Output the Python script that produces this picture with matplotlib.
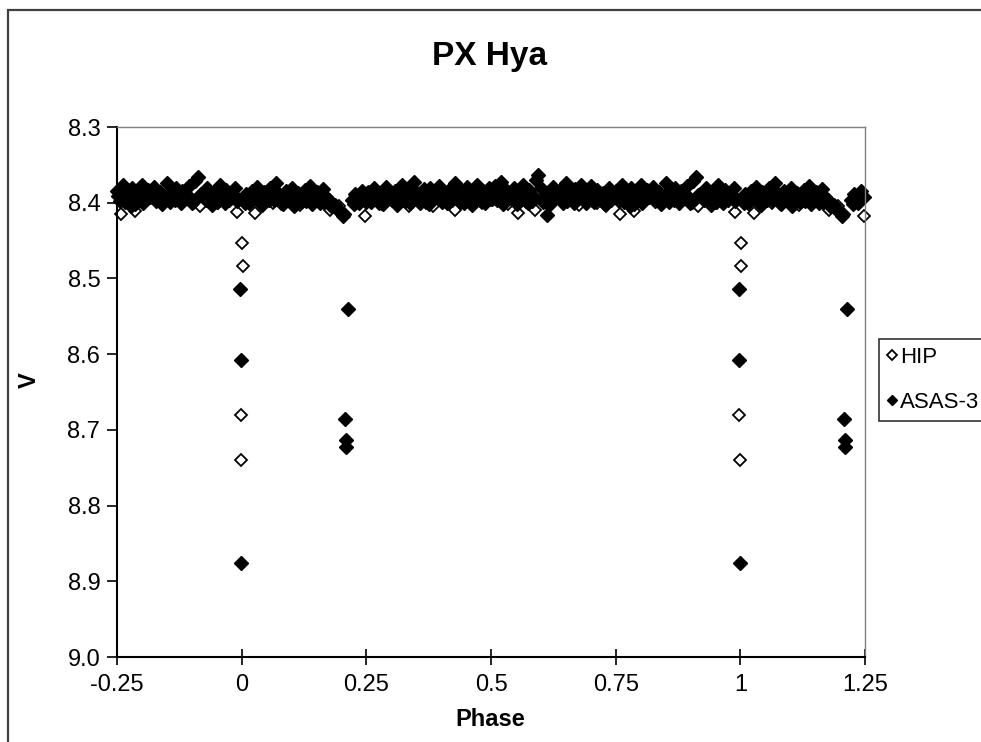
import matplotlib
matplotlib.use("Agg")
import matplotlib.pyplot as plt
from matplotlib.patches import Rectangle
import numpy as np

plt.rcParams['font.family'] = ['Liberation Sans', 'DejaVu Sans']

title = "PX Hya"
xlabel = "Phase"
ylabel = "V"
series_names = ["HIP", "ASAS-3"]
xticks = [-0.25, 0, 0.25, 0.5, 0.75, 1, 1.25]
xtick_labels = ["-0.25", "0", "0.25", "0.5", "0.75", "1", "1.25"]
yticks = [8.3, 8.4, 8.5, 8.6, 8.7, 8.8, 8.9, 9.0]
ytick_labels = ["8.3", "8.4", "8.5", "8.6", "8.7", "8.8", "8.9", "9.0"]

# HIP base phases (0..1) and magnitudes
hip_phase = [0.001, 0.002, 0.998, 0.999,
             0.012, 0.027, 0.045, 0.063, 0.081, 0.098, 0.117, 0.134, 0.152, 0.177,
             0.195, 0.232, 0.247, 0.262, 0.281, 0.299, 0.318, 0.336, 0.353, 0.369,
             0.384, 0.405, 0.428, 0.446, 0.463, 0.481, 0.499, 0.517, 0.535, 0.554,
             0.571, 0.588, 0.605, 0.623, 0.641, 0.659, 0.677, 0.695, 0.712, 0.730,
             0.758, 0.787, 0.805, 0.822, 0.841, 0.860, 0.879, 0.897, 0.916, 0.935,
             0.953, 0.972, 0.990]
hip_mag = [8.453, 8.484, 8.680, 8.740,
           8.398, 8.414, 8.392, 8.401, 8.395, 8.388, 8.403, 8.397, 8.390, 8.410,
           8.405, 8.399, 8.417, 8.394, 8.402, 8.391, 8.398, 8.404, 8.393, 8.400,
           8.404, 8.395, 8.410, 8.398, 8.392, 8.401, 8.396, 8.389, 8.402, 8.414,
           8.399, 8.410, 8.394, 8.401, 8.397, 8.390, 8.403, 8.396, 8.400, 8.405,
           8.415, 8.411, 8.398, 8.386, 8.402, 8.395, 8.400, 8.392, 8.404, 8.397,
           8.401, 8.394, 8.412]

# ASAS-3 base phases (0..1) and magnitudes
asas_phase = [0.997, 0.998, 0.999, 0.213, 0.207, 0.209, 0.2095,
              0.004, 0.009, 0.015, 0.021, 0.026, 0.031, 0.038, 0.044, 0.051, 0.057,
              0.064, 0.069, 0.075, 0.082, 0.088, 0.094, 0.101, 0.107, 0.113, 0.119,
              0.127, 0.132, 0.138, 0.145, 0.151, 0.157, 0.163, 0.170, 0.176, 0.182,
              0.188, 0.193, 0.198, 0.203, 0.206, 0.222, 0.228, 0.235, 0.241, 0.247,
              0.253, 0.259, 0.265, 0.271, 0.278, 0.284, 0.290, 0.296, 0.302, 0.308,
              0.315, 0.321, 0.327, 0.333, 0.340, 0.346, 0.352, 0.358, 0.365, 0.371,
              0.377, 0.383, 0.390, 0.396, 0.402, 0.408, 0.415, 0.421, 0.427, 0.433,
              0.440, 0.446, 0.452, 0.458, 0.465, 0.471, 0.477, 0.483, 0.490, 0.496,
              0.502, 0.508, 0.515, 0.521, 0.527, 0.533, 0.540, 0.546, 0.552, 0.558,
              0.565, 0.571, 0.577, 0.583, 0.590, 0.594, 0.600, 0.606, 0.612, 0.619,
              0.625, 0.631, 0.637, 0.644, 0.650, 0.656, 0.662, 0.669, 0.675, 0.681,
              0.687, 0.694, 0.700, 0.706, 0.712, 0.719, 0.725, 0.731, 0.737, 0.744,
              0.750, 0.756, 0.762, 0.769, 0.775, 0.781, 0.787, 0.794, 0.800, 0.806,
              0.812, 0.819, 0.825, 0.831, 0.837, 0.844, 0.850, 0.856, 0.862, 0.869,
              0.875, 0.881, 0.887, 0.894, 0.900, 0.906, 0.912, 0.919, 0.925, 0.931,
              0.937, 0.944, 0.950, 0.956, 0.962, 0.969, 0.975, 0.981, 0.987, 0.992,
              # second season of band points
              0.007, 0.018, 0.029, 0.041, 0.054, 0.067, 0.079, 0.091, 0.104, 0.116,
              0.129, 0.141, 0.154, 0.166, 0.179, 0.191, 0.226, 0.238, 0.250, 0.262,
              0.275, 0.287, 0.300, 0.312, 0.325, 0.337, 0.350, 0.362, 0.375, 0.387,
              0.400, 0.412, 0.425, 0.437, 0.450, 0.462, 0.475, 0.487, 0.500, 0.512,
              0.525, 0.537, 0.550, 0.562, 0.575, 0.587, 0.604, 0.616, 0.628, 0.641,
              0.653, 0.666, 0.678, 0.691, 0.703, 0.716, 0.728, 0.741, 0.753, 0.766,
              0.778, 0.791, 0.803, 0.816, 0.828, 0.841, 0.853, 0.866, 0.878, 0.891,
              0.903, 0.916, 0.928, 0.941, 0.953, 0.966, 0.978, 0.990]
asas_mag = [8.514, 8.608, 8.876, 8.540, 8.685, 8.713, 8.722,
            8.395, 8.388, 8.401, 8.384, 8.392, 8.379, 8.398, 8.386, 8.393, 8.381,
            8.397, 8.374, 8.389, 8.402, 8.385, 8.391, 8.380, 8.396, 8.387, 8.399,
            8.383, 8.394, 8.378, 8.390, 8.386, 8.401, 8.382, 8.393, 8.397, 8.405,
            8.403, 8.409, 8.412, 8.418, 8.415, 8.396, 8.388, 8.400, 8.384, 8.392,
            8.386, 8.399, 8.381, 8.393, 8.388, 8.402, 8.379, 8.391, 8.396, 8.384,
            8.390, 8.377, 8.398, 8.385, 8.394, 8.372, 8.387, 8.400, 8.382, 8.395,
            8.380, 8.392, 8.386, 8.378, 8.399, 8.389, 8.383, 8.396, 8.374, 8.391,
            8.385, 8.401, 8.379, 8.393, 8.388, 8.376, 8.397, 8.384, 8.392, 8.381,
            8.395, 8.378, 8.389, 8.372, 8.398, 8.385, 8.391, 8.380, 8.402, 8.387,
            8.376, 8.393, 8.383, 8.398, 8.370, 8.364, 8.381, 8.396, 8.416, 8.388,
            8.379, 8.392, 8.385, 8.400, 8.374, 8.389, 8.396, 8.382, 8.391, 8.377,
            8.394, 8.386, 8.378, 8.399, 8.383, 8.391, 8.387, 8.397, 8.380, 8.393,
            8.385, 8.398, 8.377, 8.390, 8.394, 8.381, 8.402, 8.388, 8.376, 8.395,
            8.383, 8.391, 8.379, 8.397, 8.386, 8.392, 8.374, 8.399, 8.388, 8.381,
            8.396, 8.384, 8.390, 8.378, 8.401, 8.371, 8.366, 8.389, 8.393, 8.380,
            8.394, 8.386, 8.399, 8.377, 8.391, 8.383, 8.397, 8.388, 8.380, 8.395,
            8.400, 8.393, 8.387, 8.403, 8.396, 8.389, 8.400, 8.394, 8.404, 8.390,
            8.398, 8.402, 8.391, 8.399, 8.404, 8.407, 8.402, 8.395, 8.399, 8.392,
            8.401, 8.396, 8.389, 8.403, 8.394, 8.400, 8.391, 8.397, 8.402, 8.388,
            8.396, 8.401, 8.392, 8.399, 8.385, 8.403, 8.394, 8.400, 8.389, 8.397,
            8.402, 8.390, 8.398, 8.395, 8.401, 8.392, 8.399, 8.403, 8.394, 8.390,
            8.398, 8.401, 8.393, 8.400, 8.396, 8.389, 8.402, 8.397, 8.391, 8.399,
            8.404, 8.395, 8.400, 8.392, 8.398, 8.402, 8.387, 8.396, 8.401, 8.393,
            8.399, 8.390, 8.397, 8.403, 8.394, 8.400, 8.391, 8.398]


def extend(phase, mag):
    p = np.asarray(phase, float)
    m = np.asarray(mag, float)
    lo = p < 0.25
    hi = p >= 0.75
    return (np.concatenate([p, p[lo] + 1, p[hi] - 1]),
            np.concatenate([m, m[lo], m[hi]]))


hx, hy = extend(hip_phase, hip_mag)
ax_, ay_ = extend(asas_phase, asas_mag)

W, H = 981, 742
fig = plt.figure(figsize=(W / 100, H / 100), dpi=100)
fig.patch.set_facecolor("white")

# outer chart border (cropped at right/bottom)
fig.add_artist(Rectangle((8 / W, -0.05), 1.2, 1 - 10 / H + 0.05,
                         transform=fig.transFigure, fill=False,
                         edgecolor="#404040", lw=1.6, clip_on=False))

ax = fig.add_axes([117 / W, 1 - 657 / H, (865 - 117) / W, (657 - 127) / H])

ax.plot(hx, hy, linestyle="none", marker="D", markersize=6.2,
        markerfacecolor="white", markeredgecolor="black", markeredgewidth=1.3,
        label=series_names[0], clip_on=False)
ax.plot(ax_, ay_, linestyle="none", marker="D", markersize=6.8,
        markerfacecolor="black", markeredgecolor="black", markeredgewidth=1.0,
        label=series_names[1], clip_on=False)

ax.set_xlim(-0.25, 1.25)
ax.set_ylim(9.0, 8.3)
ax.set_xticks(xticks)
ax.set_xticklabels(xtick_labels)
ax.set_yticks(yticks)
ax.set_yticklabels(ytick_labels)

for s in ["top", "right"]:
    ax.spines[s].set_color("#808080")
    ax.spines[s].set_linewidth(1.0)
for s in ["left", "bottom"]:
    ax.spines[s].set_color("black")
    ax.spines[s].set_linewidth(1.5)

ax.tick_params(axis="x", direction="inout", length=11, width=1.2, labelsize=17, pad=7)
ax.tick_params(axis="y", direction="out", length=7, width=1.2, labelsize=17, pad=5)

fig.text(490 / W, 1 - 57 / H, title, ha="center", va="center",
         fontsize=24, fontweight="bold")
fig.text(490 / W, 1 - 720 / H, xlabel, ha="center", va="center",
         fontsize=17, fontweight="bold")
fig.text(29 / W, 1 - 380 / H, ylabel, ha="center", va="center",
         fontsize=17, fontweight="bold", rotation=90)

leg = ax.legend(loc="upper left", bbox_to_anchor=(879 / W, 1 - 339 / H),
                bbox_transform=fig.transFigure, borderaxespad=0,
                fontsize=16, frameon=True, fancybox=False, edgecolor="black",
                handlelength=0.45, handletextpad=0.15, borderpad=0.35,
                labelspacing=1.1, numpoints=1, markerscale=0.8)
leg.get_frame().set_linewidth(1.2)
leg.set_clip_on(False)

fig.savefig("out.png", dpi=100, facecolor="white")
